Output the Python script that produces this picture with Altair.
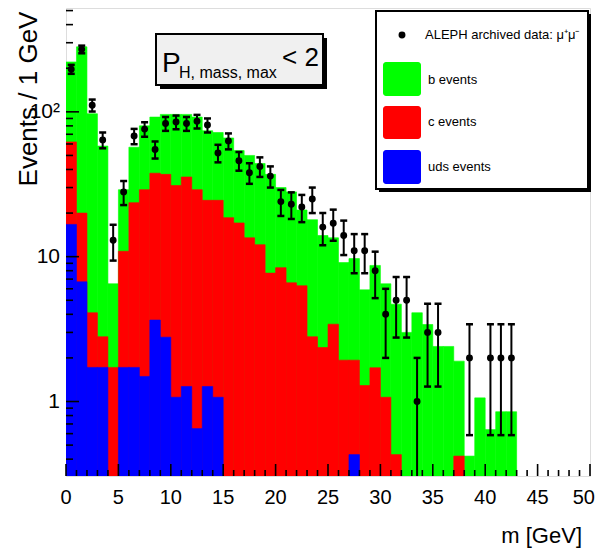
import math
import altair as alt
import pandas as pd

# ---------------- data ----------------
bin_low = list(range(50))  # 1 GeV bins, 0..50 GeV

# ALEPH data counts per bin
data_counts = [197, 270, 111, 64, 13, 28, 68, 76, 55, 83,
               85, 83, 86, 81, 52, 63, 46, 38, 42, 36,
               24, 23, 22, 25, 16, 17, 14, 11, 11, 8,
               4, 5, 5, 1, 3, 3, 0, 0, 2, 0,
               2, 2, 2, 0, 0, 0, 0, 0, 0, 0]

# stacked histogram levels (tops of each coloured band)
stack_total = [221, 281, 97, 58, 6.5, 29, 57, 80, 92, 96,
               96, 96, 92, 74, 72, 66, 54, 50, 44, 37,
               30, 28, 21, 18, 14, 13.5, 9.1, 9.7, 5.9, 8.7,
               6.5, 4.7, 3.0, 4.1, 3.4, 2.4, 2.4, 1.9, 0.42, 1.06,
               0.64, 0.85, 0.85, 0, 0, 0, 0, 0, 0, 0]          # b + c + uds
stack_c_uds = [62, 20, 4.1, 2.8, 1.72, 10.9, 23.6, 29, 37.7, 37,
               31, 35.5, 29, 24.5, 24.5, 18.6, 17.1, 13.5, 12.1, 7.7,
               8.4, 6.6, 6.3, 2.8, 2.36, 3.42, 1.93, 1.93, 1.29, 1.71,
               1.07, 0.43, 0, 0, 0, 0, 0, 0.42, 0, 0,
               0, 0, 0, 0, 0, 0, 0, 0, 0, 0]                  # c + uds
stack_uds = [16.7, 6.7, 1.72, 1.72, 0, 1.72, 1.72, 1.49, 3.65, 2.78,
             1.07, 1.27, 0.65, 1.27, 1.07, 0, 0, 0, 0, 0,
             0, 0, 0, 0, 0, 0, 0, 0.43, 0, 0,
             0, 0, 0, 0, 0, 0, 0, 0, 0, 0,
             0, 0, 0, 0, 0, 0, 0, 0, 0, 0]                    # uds

x_major = [0, 5, 10, 15, 20, 25, 30, 35, 40, 45, 50]
x_major_labels = ["0", "5", "10", "15", "20", "25", "30", "35", "40", "45", "50"]
x_minor = [i for i in range(51) if i % 5 != 0]
y_major = [1, 10, 100]
y_major_labels = ["1", "10", "10\u00b2"]
y_minor = [0.4, 0.5, 0.6, 0.7, 0.8, 0.9,
           2, 3, 4, 5, 6, 7, 8, 9,
           20, 30, 40, 50, 60, 70, 80, 90,
           200, 300, 400, 500]

legend_labels = ["ALEPH archived data: \u03bc\u207a\u03bc\u207b", "b events", "c events", "uds events"]
colors = {"b": "#00ff00", "c": "#ff0000", "uds": "#0000ff"}

# ---------------- layout ----------------
W, H = 524, 468
YMIN, YMAX = 0.306, 521
FONT = "Liberation Sans, Arial, Helvetica, sans-serif"

xs = alt.Scale(domain=[0, 50], nice=False, zero=False)
ys = alt.Scale(type="log", domain=[YMIN, YMAX], nice=False)

hist = pd.DataFrame({
    "lo": bin_low,
    "hi": [b + 1 for b in bin_low],
    "total": stack_total,
    "cu": stack_c_uds,
    "uds": stack_uds,
})


def band(col, color):
    df = hist[hist[col] > 0]
    return alt.Chart(df).mark_rect(color=color, stroke=color, strokeWidth=0.6, clip=True).encode(
        x=alt.X("lo:Q", scale=xs, axis=None),
        x2="hi:Q",
        y=alt.Y(f"{col}:Q", scale=ys, axis=None),
        y2=alt.value(H),
    )


green = band("total", colors["b"])
red = band("cu", colors["c"])
blue = band("uds", colors["uds"])

# data points with sqrt(N) errors
pts = pd.DataFrame({"c": [b + 0.5 for b in bin_low], "n": data_counts})
pts = pts[pts["n"] > 0].copy()
pts["up"] = pts["n"] + pts["n"].apply(math.sqrt)
pts["dn_raw"] = pts["n"] - pts["n"].apply(math.sqrt)
pts["dn"] = pts["dn_raw"].clip(lower=YMIN)

err = alt.Chart(pts).mark_rule(color="black", strokeWidth=2, clip=True).encode(
    x=alt.X("c:Q", scale=xs, axis=None),
    y=alt.Y("up:Q", scale=ys, axis=None),
    y2="dn:Q",
)
cap_up = alt.Chart(pts).mark_tick(orient="horizontal", size=7, thickness=2.5, color="black", opacity=1, clip=True).encode(
    x=alt.X("c:Q", scale=xs, axis=None),
    y=alt.Y("up:Q", scale=ys, axis=None),
)
cap_dn = alt.Chart(pts[pts["dn_raw"] > YMIN]).mark_tick(orient="horizontal", size=7, thickness=2.5, color="black", opacity=1, clip=True).encode(
    x=alt.X("c:Q", scale=xs, axis=None),
    y=alt.Y("dn_raw:Q", scale=ys, axis=None),
)
dots = alt.Chart(pts).mark_circle(size=48, color="black", opacity=1, clip=True).encode(
    x=alt.X("c:Q", scale=xs, axis=None),
    y=alt.Y("n:Q", scale=ys, axis=None),
)


# inward ticks (ROOT style)
def xticks(vals, length):
    return alt.Chart(pd.DataFrame({"v": vals})).mark_rule(color="black", strokeWidth=1.6).encode(
        x=alt.X("v:Q", scale=xs, axis=None), y=alt.value(H), y2=alt.value(H - length))


def yticks(vals, length):
    return alt.Chart(pd.DataFrame({"v": vals})).mark_rule(color="black", strokeWidth=1.6).encode(
        y=alt.Y("v:Q", scale=ys, axis=None), x=alt.value(0), x2=alt.value(length))


# tick labels placed through the scales
xl_df = pd.DataFrame({"v": x_major, "t": x_major_labels})
xlab = alt.Chart(xl_df.iloc[:-1]).mark_text(
    font=FONT, fontSize=20, align="center", baseline="middle", color="black").encode(
    x=alt.X("v:Q", scale=xs, axis=None), y=alt.value(H + 22), text="t:N")
# last label kept inside the page edge
xlab_last = alt.Chart(xl_df.iloc[-1:]).mark_text(
    font=FONT, fontSize=20, align="right", baseline="middle", dx=5, color="black").encode(
    x=alt.X("v:Q", scale=xs, axis=None), y=alt.value(H + 22), text="t:N")
ylab = alt.Chart(pd.DataFrame({"v": y_major, "t": y_major_labels})).mark_text(
    font=FONT, fontSize=21, align="right", baseline="middle", color="black").encode(
    y=alt.Y("v:Q", scale=ys, axis=None), x=alt.value(-6), text="t:N")

one = pd.DataFrame({"k": [0]})


def box(x1, y1, x2, y2, fill, stroke=None, sw=0, radius=0):
    kw = dict(fill=fill, cornerRadius=radius)
    if stroke:
        kw.update(stroke=stroke, strokeWidth=sw)
    else:
        kw.update(strokeWidth=0)
    return alt.Chart(one).mark_rect(**kw).encode(
        x=alt.value(x1), x2=alt.value(x2), y=alt.value(y1), y2=alt.value(y2))


def label(txt, x, y, size, font=FONT, align="left", baseline="middle", angle=0):
    return alt.Chart(one).mark_text(font=font, fontSize=size, align=align, baseline=baseline,
                                    angle=angle, color="black").encode(
        x=alt.value(x), y=alt.value(y), text=alt.value(txt))


# title box "P_{H, mass, max} < 2"
title_shadow = box(94, 30, 261, 81, "black")
title_box = box(90, 26, 257, 77, "#f0f0f0", "black", 2)
t_P = label("P", 96, 64, 28, baseline="alphabetic")
t_sub = label("H, mass, max", 113, 70, 16, baseline="alphabetic")
t_lt = label("< 2", 216, 58, 26, baseline="alphabetic")

# legend
leg_shadow = box(313, 6, 525, 184, "black")
leg_box = box(310, 3, 522, 181, "white", "black", 2)
leg_dot = alt.Chart(one).mark_circle(size=48, color="black", opacity=1).encode(
    x=alt.value(336), y=alt.value(27))
leg_t0 = label(legend_labels[0], 359, 27, 13)
leg_g = box(317, 54, 355, 88, colors["b"], radius=3)
leg_r = box(317, 98, 355, 131, colors["c"], radius=3)
leg_b = box(317, 142, 355, 176, colors["uds"], radius=3)
leg_t1 = label(legend_labels[1], 362, 72, 13)
leg_t2 = label(legend_labels[2], 362, 114, 13)
leg_t3 = label(legend_labels[3], 362, 159, 13)

# axis titles
ytitle = label("Events / 1 GeV", -29, 91, 26, align="center", baseline="alphabetic", angle=270)
xtitle = label("m [GeV]", 516, 528, 22, align="right")

chart = alt.layer(
    green, red, blue,
    xticks(x_minor, 6), xticks(x_major, 12),
    yticks(y_minor, 7), yticks(y_major, 13),
    xlab, xlab_last, ylab,
    err, cap_up, cap_dn, dots,
    title_shadow, title_box, t_P, t_sub, t_lt,
    leg_shadow, leg_box, leg_dot, leg_t0, leg_g, leg_r, leg_b, leg_t1, leg_t2, leg_t3,
    ytitle, xtitle,
).properties(
    width=W, height=H,
    autosize=alt.AutoSizeParams(type="none"),
    padding={"left": 58, "top": 0, "right": 5, "bottom": 75},
).configure_view(
    stroke="black", strokeWidth=2
).configure(background="white")

chart.save("out.html", embed_options={"renderer": "svg", "actions": False})
